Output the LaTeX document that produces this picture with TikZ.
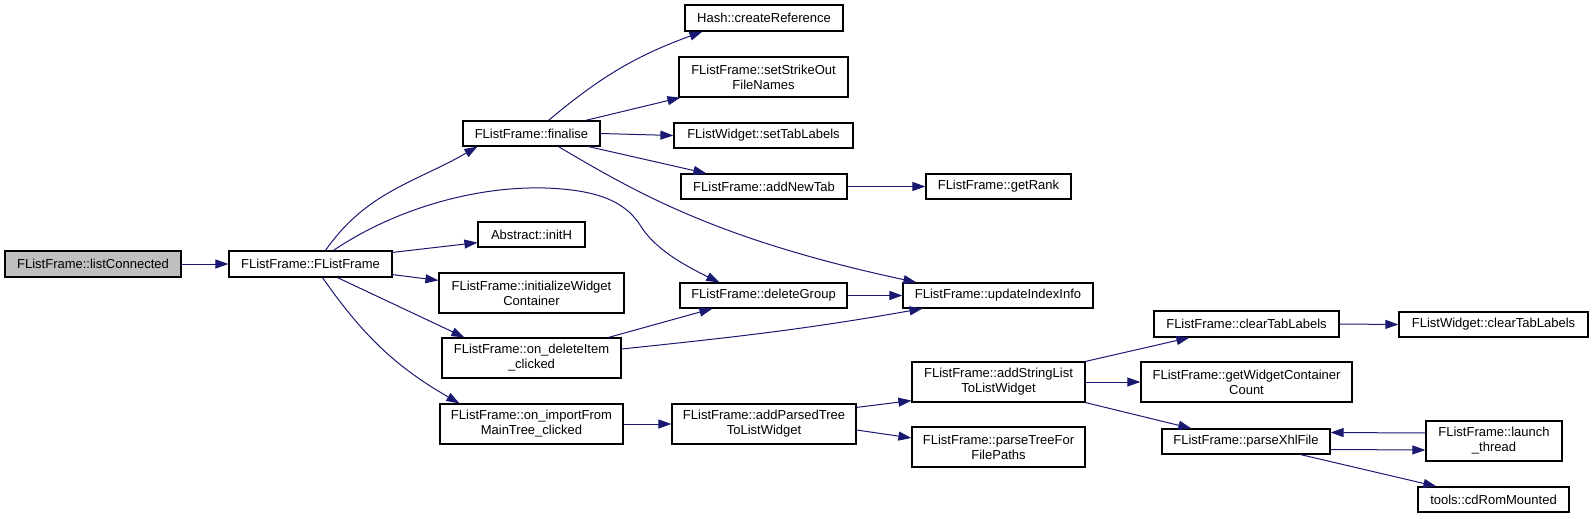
\documentclass[tikz,border=0pt]{standalone}
\usepackage{fontspec}
\setmainfont{Liberation Sans}
\usetikzlibrary{arrows.meta}

\definecolor{edgeblue}{HTML}{191970}
\definecolor{callgray}{HTML}{BFBFBF}

\begin{document}
\begin{tikzpicture}[x=1pt,y=-1pt,
    func/.style={draw=black, fill=white, line width=1.2pt, inner sep=0pt,
      minimum height=25, align=center, font=\fontsize{13}{15}\selectfont},
    tall/.style={minimum height=40},
    call/.style={draw=edgeblue, line width=1pt, -{Triangle[length=13pt,width=9pt]}}]
  \useasboundingbox (0,0) rectangle (1593,519);

  % column 0 and 1
  \node[func, fill=callgray, minimum width=176, minimum height=26] (listConn) at (93,264) {FListFrame::listConnected};
  \node[func, minimum width=163, minimum height=26] (ctor) at (310.5,264) {FListFrame::FListFrame};

  % column 2
  \node[func, minimum width=137] (finalise) at (531.5,133.5) {FListFrame::finalise};
  \node[func, minimum width=107] (initH) at (531.5,234.5) {Abstract::initH};
  \node[func, tall, minimum width=185] (initWidget) at (531.5,293) {FListFrame::initializeWidget\\Container};
  \node[func, tall, minimum width=179] (onDelete) at (531.5,358) {FListFrame::on\_deleteItem\\\_clicked};
  \node[func, tall, minimum width=183] (onImport) at (531.5,424) {FListFrame::on\_importFrom\\MainTree\_clicked};

  % column 3
  \node[func, minimum width=158, minimum height=26] (createRef) at (764,18) {Hash::createReference};
  \node[func, tall, minimum width=169] (strikeOut) at (763.5,77) {FListFrame::setStrikeOut\\FileNames};
  \node[func, minimum width=179] (setTabLbl) at (763.5,135.5) {FListWidget::setTabLabels};
  \node[func, minimum width=166] (addNewTab) at (764,186.5) {FListFrame::addNewTab};
  \node[func, minimum width=167] (deleteGroup) at (763.5,295.5) {FListFrame::deleteGroup};
  \node[func, tall, minimum width=184] (addParsed) at (764,424) {FListFrame::addParsedTree\\ToListWidget};

  % column 4
  \node[func, minimum width=145] (getRank) at (998.5,186.5) {FListFrame::getRank};
  \node[func, minimum width=190] (updateIdx) at (998,295.5) {FListFrame::updateIndexInfo};
  \node[func, tall, minimum width=173] (addString) at (998.5,382) {FListFrame::addStringList\\ToListWidget};
  \node[func, tall, minimum width=173] (parseTree) at (998.5,447) {FListFrame::parseTreeFor\\FilePaths};

  % column 5
  \node[func, minimum width=185, minimum height=26] (clearTab) at (1246.5,324) {FListFrame::clearTabLabels};
  \node[func, tall, minimum width=211] (widgetCount) at (1246.5,382) {FListFrame::getWidgetContainer\\Count};
  \node[func, minimum width=168] (parseXhl) at (1246,441.5) {FListFrame::parseXhlFile};

  % column 6
  \node[func, minimum width=189] (wClearTab) at (1493.5,324.5) {FListWidget::clearTabLabels};
  \node[func, tall, minimum width=136] (launch) at (1494,441) {FListFrame::launch\\\_thread};
  \node[func, minimum width=151] (cdRom) at (1493.5,499.5) {tools::cdRomMounted};

  % calls
  \draw[call] (listConn.east) -- (ctor.west);
  \draw[call] ([xshift=15]ctor.north) to[out=55,in=-150] ([xshift=15]finalise.south west);
  \draw[call] ([xshift=23]ctor.north) .. controls (390,212) and (470,186) .. (545,188)
    .. controls (605,190) and (628,205) .. (642,228)
    .. controls (658,252) and (690,268) .. ([xshift=40]deleteGroup.north west);
  \draw[call] ([yshift=-2]ctor.north east) -- ([yshift=5]initH.south west);
  \draw[call] ([yshift=3]ctor.south east) -- ([yshift=-8]initWidget.north west);
  \draw[call] ([xshift=27]ctor.south) -- ([xshift=23]onDelete.north west);
  \draw[call] ([xshift=12]ctor.south) to[out=-55,in=150] ([xshift=20]onImport.north west);

  \draw[call] ([xshift=17]finalise.north) to[out=40,in=-160] ([xshift=18]createRef.south west);
  \draw[call] ([xshift=-15]finalise.north east) -- ([xshift=2]strikeOut.south west);
  \draw[call] (finalise.east) -- (setTabLbl.west);
  \draw[call] ([xshift=-12]finalise.south east) -- ([xshift=26]addNewTab.north west);
  \draw[call] ([xshift=27]finalise.south) .. controls (640,195) and (720,240) .. ([xshift=14]updateIdx.north west);
  \draw[call] (addNewTab.east) -- (getRank.west);

  \draw[call] (deleteGroup.east) -- (updateIdx.west);
  \draw[call] ([xshift=-13]onDelete.north east) -- ([xshift=33]deleteGroup.south west);
  \draw[call] ([yshift=9]onDelete.east) to[out=6,in=-170] ([xshift=20]updateIdx.south west);
  \draw[call] (onImport.east) -- (addParsed.west);

  \draw[call] ([yshift=-4]addParsed.north east) -- ([yshift=2]addString.south west);
  \draw[call] ([yshift=-6]addParsed.east) -- ([yshift=9]parseTree.west);
  \draw[call] (addString.north east) -- ([xshift=36]clearTab.south west);
  \draw[call] (addString.east) -- (widgetCount.west);
  \draw[call] (addString.south east) -- ([xshift=30]parseXhl.north west);
  \draw[call] (clearTab.east) -- (wClearTab.west);

  \draw[call] ([yshift=-8]parseXhl.east) -- ([yshift=-9]launch.west);
  \draw[call] ([yshift=8]launch.west) -- ([yshift=9]parseXhl.east);
  \draw[call] ([xshift=-30]parseXhl.south east) -- ([xshift=19]cdRom.north west);
\end{tikzpicture}
\end{document}
